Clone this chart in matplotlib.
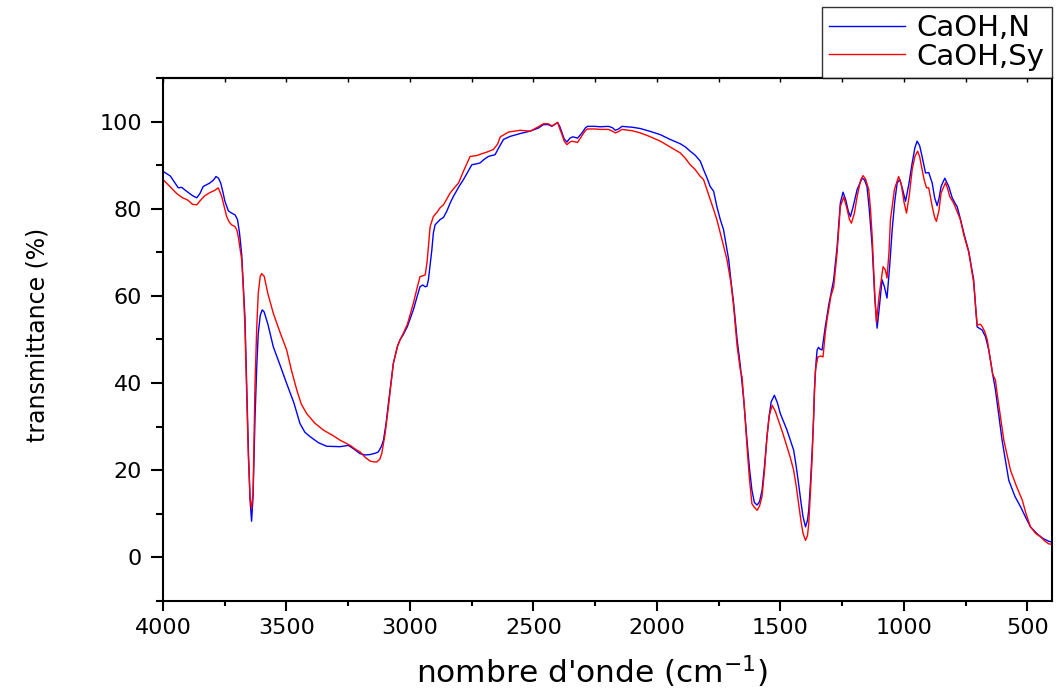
import matplotlib
matplotlib.use("Agg")
import matplotlib.pyplot as plt
from matplotlib.ticker import MultipleLocator

# FTIR spectra: wavenumber (cm-1) and transmittance (%)
wn_n = [4000, 3970, 3950, 3938, 3924, 3904, 3880, 3863, 3850, 3837, 3810, 3795, 3785, 3775,
        3766, 3757, 3749, 3735, 3722, 3708, 3698, 3690, 3681, 3674, 3668, 3661, 3654, 3647,
        3641, 3635, 3627, 3620, 3614, 3606, 3598, 3590, 3575, 3553, 3525, 3499, 3470, 3445,
        3425, 3404, 3370, 3337, 3283, 3249, 3225, 3202, 3180, 3161, 3140, 3128, 3115, 3107,
        3097, 3087, 3067, 3050, 3040, 3026, 3010, 2986, 2970, 2959, 2948, 2938, 2931, 2925,
        2911, 2905, 2898, 2878, 2864, 2850, 2837, 2824, 2800, 2783, 2765, 2749, 2730, 2716,
        2700, 2682, 2655, 2640, 2621, 2594, 2550, 2513, 2480, 2459, 2440, 2425, 2410, 2402,
        2394, 2384, 2375, 2364, 2352, 2340, 2321, 2303, 2290, 2281, 2250, 2229, 2196, 2180,
        2168, 2155, 2141, 2100, 2067, 2030, 1986, 1950, 1905, 1885, 1865, 1845, 1824, 1811,
        1795, 1784, 1770, 1757, 1743, 1730, 1716, 1709, 1700, 1689, 1675, 1662, 1655, 1648,
        1635, 1625, 1615, 1605, 1594, 1584, 1574, 1564, 1554, 1545, 1537, 1524, 1512, 1500,
        1487, 1473, 1460, 1446, 1436, 1426, 1416, 1408, 1398, 1390, 1385, 1378, 1371, 1365,
        1362, 1355, 1351, 1345, 1340, 1331, 1318, 1304, 1290, 1284, 1270, 1257, 1246, 1235,
        1225, 1216, 1205, 1189, 1169, 1159, 1149, 1140, 1128, 1118, 1108, 1098, 1088, 1078,
        1068, 1057, 1047, 1037, 1027, 1016, 1005, 993, 980, 966, 955, 946, 936, 926,
        912, 899, 885, 875, 865, 857, 849, 834, 818, 804, 790, 784, 770, 757,
        737, 717, 710, 703, 690, 683, 669, 656, 640, 629, 602, 575, 550, 527,
        505, 487, 460, 435, 413, 400]
t_n = [88.6, 87.5, 85.8, 84.8, 84.9, 84.0, 83.0, 82.5, 83.5, 85.1, 85.9, 86.6, 87.4, 87.0,
       85.9, 83.8, 81.7, 79.5, 79.0, 78.6, 77.5, 74.5, 69.5, 62.0, 55.2, 40.0, 24.6, 13.0,
       8.3, 14.0, 32.3, 44.0, 51.4, 55.5, 56.8, 56.3, 53.5, 48.3, 44.0, 39.9, 35.5, 30.7,
       28.7, 27.7, 26.3, 25.5, 25.4, 25.7, 24.8, 23.8, 23.5, 23.6, 23.9, 24.2, 25.5, 26.9,
       30.5, 35.3, 44.5, 48.5, 49.9, 51.2, 53.0, 56.8, 60.0, 62.1, 62.5, 62.1, 62.2, 63.7,
       70.6, 74.4, 76.3, 77.5, 78.0, 79.5, 81.3, 82.8, 85.2, 86.7, 88.5, 90.1, 90.3, 90.5,
       91.3, 92.0, 92.4, 94.0, 95.9, 96.6, 97.3, 97.8, 98.5, 99.3, 99.3, 98.9, 99.5, 99.8,
       99.0, 97.4, 96.0, 95.3, 96.2, 96.5, 96.2, 97.4, 98.5, 98.9, 98.9, 98.8, 98.9, 98.6,
       98.0, 98.3, 98.9, 98.7, 98.4, 97.8, 97.0, 96.0, 94.9, 94.2, 93.2, 92.3, 90.9, 89.0,
       86.8, 85.1, 84.0, 80.5, 77.5, 75.2, 70.5, 68.3, 63.5, 58.3, 50.0, 44.0, 40.0, 36.0,
       26.9, 20.5, 15.4, 12.6, 12.0, 12.8, 15.4, 21.0, 27.7, 32.5, 35.7, 37.2, 35.5, 33.0,
       31.2, 29.2, 27.0, 24.6, 21.0, 16.9, 12.5, 9.3, 7.0, 8.5, 10.8, 17.0, 24.6, 32.0,
       38.4, 45.0, 47.6, 48.2, 47.8, 47.6, 52.9, 57.9, 62.0, 63.7, 71.3, 81.3, 83.8, 82.0,
       79.5, 78.2, 80.5, 84.4, 87.0, 86.6, 85.1, 80.0, 71.3, 60.0, 52.6, 58.0, 63.7, 62.0,
       59.5, 67.0, 75.2, 81.5, 85.9, 86.7, 84.5, 81.7, 85.5, 90.5, 94.0, 95.5, 94.5, 92.0,
       88.2, 88.3, 85.9, 82.5, 80.7, 82.5, 85.1, 87.0, 85.1, 82.5, 81.0, 80.5, 77.5, 74.4,
       70.2, 63.7, 58.0, 52.9, 52.4, 52.2, 50.6, 47.6, 42.0, 38.5, 26.9, 17.7, 14.0, 11.6,
       9.0, 7.0, 5.4, 4.3, 3.7, 3.5]

wn_sy = [4000, 3970, 3950, 3938, 3920, 3900, 3880, 3863, 3850, 3830, 3810, 3790, 3776, 3770,
         3762, 3752, 3742, 3732, 3722, 3708, 3700, 3695, 3688, 3681, 3674, 3668, 3661, 3654,
         3647, 3641, 3635, 3627, 3620, 3614, 3606, 3600, 3590, 3575, 3553, 3525, 3499, 3480,
         3458, 3440, 3418, 3385, 3350, 3310, 3283, 3242, 3220, 3202, 3180, 3161, 3145, 3134,
         3122, 3114, 3100, 3087, 3067, 3050, 3040, 3026, 3010, 2986, 2970, 2959, 2938, 2930,
         2918, 2905, 2890, 2878, 2864, 2850, 2837, 2820, 2803, 2780, 2756, 2729, 2710, 2688,
         2662, 2645, 2634, 2600, 2553, 2513, 2480, 2459, 2440, 2425, 2410, 2402, 2394, 2384,
         2375, 2364, 2352, 2344, 2321, 2303, 2290, 2281, 2250, 2229, 2196, 2180, 2168, 2155,
         2141, 2100, 2067, 2030, 1986, 1950, 1905, 1885, 1865, 1845, 1824, 1811, 1795, 1784,
         1770, 1757, 1743, 1730, 1716, 1700, 1689, 1675, 1662, 1655, 1645, 1635, 1625, 1615,
         1605, 1594, 1584, 1574, 1564, 1554, 1545, 1533, 1520, 1508, 1490, 1473, 1460, 1446,
         1436, 1426, 1416, 1408, 1398, 1390, 1385, 1378, 1371, 1365, 1358, 1348, 1337, 1327,
         1318, 1311, 1295, 1284, 1270, 1257, 1243, 1230, 1220, 1212, 1200, 1189, 1175, 1165,
         1155, 1142, 1135, 1128, 1118, 1111, 1100, 1084, 1075, 1068, 1060, 1054, 1038, 1021,
         1010, 999, 989, 978, 966, 955, 944, 936, 926, 917, 908, 899, 885, 875,
         868, 858, 849, 831, 822, 814, 798, 785, 771, 757, 737, 717, 710, 703,
         690, 683, 672, 662, 640, 629, 622, 595, 568, 545, 520, 505, 487, 466,
         446, 430, 413, 400]
t_sy = [86.7, 85.0, 83.8, 83.2, 82.5, 82.0, 81.0, 80.9, 81.8, 83.0, 83.7, 84.2, 84.8, 84.0,
        82.8, 80.5, 78.2, 77.0, 76.3, 75.9, 75.0, 73.6, 71.0, 68.3, 61.0, 53.0, 38.0, 23.0,
        13.5, 11.2, 15.0, 40.0, 53.0, 60.6, 64.5, 65.1, 64.5, 60.5, 56.0, 51.5, 47.6, 43.0,
        38.4, 35.2, 33.0, 30.8, 29.2, 27.9, 26.9, 25.7, 24.8, 24.2, 22.9, 22.1, 21.9, 21.9,
        22.5, 23.8, 28.5, 34.6, 44.5, 48.5, 49.9, 51.5, 53.5, 58.3, 62.0, 64.4, 64.8, 68.0,
        75.9, 78.2, 79.2, 80.2, 80.9, 82.3, 83.6, 84.8, 85.9, 89.0, 92.0, 92.2, 92.6, 93.0,
        93.6, 94.8, 96.5, 97.6, 98.0, 97.8, 98.8, 99.5, 99.5, 99.0, 99.5, 99.8, 98.5, 97.0,
        95.5, 94.7, 95.3, 95.5, 95.2, 96.8, 97.9, 98.3, 98.3, 98.2, 98.2, 97.8, 97.4, 97.7,
        98.2, 97.9, 97.4, 96.6, 95.5, 94.3, 92.8, 91.6, 90.1, 89.0, 87.4, 86.7, 84.0, 82.1,
        79.8, 77.5, 74.4, 71.5, 68.3, 63.0, 57.5, 48.5, 43.0, 41.4, 34.0, 25.5, 18.0, 12.3,
        11.5, 10.8, 11.8, 14.0, 20.0, 27.7, 32.5, 34.9, 33.5, 31.5, 28.5, 25.4, 23.0, 20.0,
        16.5, 12.3, 8.2, 5.5, 3.9, 5.0, 7.7, 15.0, 23.1, 33.0, 43.0, 46.0, 46.2, 46.0,
        51.5, 54.5, 60.0, 62.0, 70.0, 80.5, 82.7, 80.0, 77.5, 76.7, 79.0, 82.8, 86.5, 87.6,
        86.8, 84.4, 80.0, 73.6, 61.0, 53.9, 60.0, 66.7, 66.0, 64.1, 70.0, 77.5, 84.4, 87.4,
        85.5, 81.5, 79.0, 83.0, 89.0, 92.0, 93.2, 92.0, 89.0, 86.5, 84.8, 84.8, 80.5, 78.0,
        77.1, 79.5, 83.6, 86.0, 84.5, 82.8, 81.3, 79.5, 77.5, 74.0, 70.0, 63.0, 58.0, 53.3,
        53.5, 53.0, 51.8, 49.9, 42.0, 40.7, 37.6, 26.9, 20.0, 16.5, 13.1, 10.0, 7.0, 5.5,
        4.7, 3.8, 3.1, 3.0]

labels = ["CaOH,N", "CaOH,Sy"]
colors = ["#0000ff", "#ff0000"]

fig = plt.figure(figsize=(10.58, 6.95), dpi=100)
ax = fig.add_axes([0.154, 0.1353, 0.8403, 0.7525])

ax.plot(wn_n, t_n, color=colors[0], lw=1.0, label=labels[0])
ax.plot(wn_sy, t_sy, color=colors[1], lw=1.0, label=labels[1])

ax.set_xlim(4000, 400)
ax.set_ylim(-10, 110)
ax.xaxis.set_major_locator(MultipleLocator(500))
ax.xaxis.set_minor_locator(MultipleLocator(250))
ax.yaxis.set_major_locator(MultipleLocator(20))
ax.yaxis.set_minor_locator(MultipleLocator(10))

for s in ax.spines.values():
    s.set_linewidth(1.5)

ax.tick_params(axis="y", which="major", direction="out", length=9, width=1.5,
               labelsize=16, pad=6)
ax.tick_params(axis="y", which="minor", direction="out", length=5, width=1.5)
ax.tick_params(axis="x", which="major", direction="out", length=7, width=1.5,
               labelsize=16, pad=5)
ax.tick_params(axis="x", which="minor", direction="out", length=3.5, width=1.5)

# inward ticks along the top spine
sec = ax.secondary_xaxis("top")
sec.xaxis.set_major_locator(MultipleLocator(500))
sec.xaxis.set_minor_locator(MultipleLocator(250))
sec.tick_params(which="both", direction="in", length=3, width=1.0, labeltop=False)
sec.spines["top"].set_linewidth(1.5)
ax.tick_params(axis="x", which="both", top=False)

ax.set_xlabel("nombre d'onde (cm$^{-1}$)", fontsize=22.5)
ax.set_ylabel("transmittance (%)", fontsize=17)
ax.xaxis.set_label_coords(0.4826, -0.136)
ax.xaxis.label.set_va("center")
ax.yaxis.set_label_coords(-0.1406, 0.5086)
ax.yaxis.label.set_va("center")

leg = ax.legend(loc="lower right", bbox_to_anchor=(1.0, 1.0), borderaxespad=0,
                fontsize=21, frameon=True, fancybox=False, edgecolor="black",
                handlelength=2.6, handletextpad=0.4, labelspacing=0.02,
                borderpad=0.25)
leg.get_frame().set_linewidth(1.0)

fig.savefig("out.png", dpi=100)
